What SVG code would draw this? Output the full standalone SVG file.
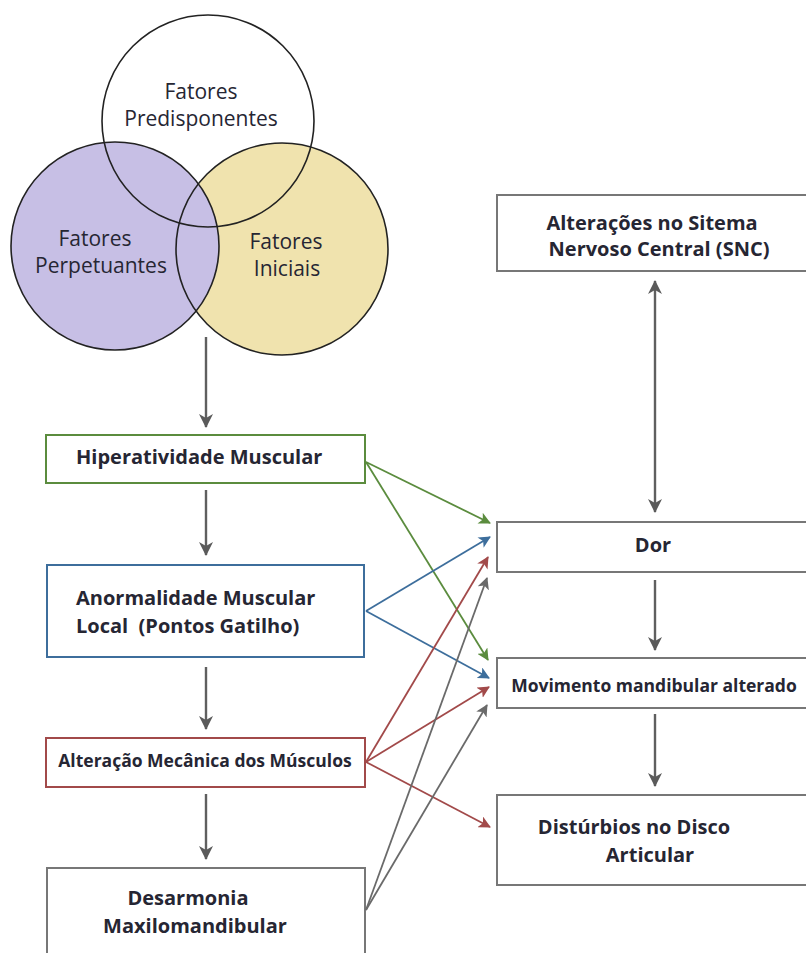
<svg xmlns="http://www.w3.org/2000/svg" width="806" height="953" viewBox="0 0 806 953">
<defs>
<style>
.c{stroke:#222;stroke-width:1.6;fill:none}
.t{font-family:"Open Sans","Liberation Sans",sans-serif;fill:#262633}
.ct{font-size:21px;text-anchor:middle}
.b{font-weight:bold;font-size:20px}
.s{font-size:17.5px}
.m{text-anchor:middle}
.bx{fill:#fff;stroke-width:2}
.g{stroke:#5b8c3e}
.bl{stroke:#3d6e9c}
.r{stroke:#a24a4a}
.k{stroke:#777}
.ln{fill:none;stroke-width:1.8}
</style>
<marker id="ak" markerWidth="14" markerHeight="14" refX="13" refY="7" orient="auto" markerUnits="userSpaceOnUse"><path d="M0,0 L14,7 L0,14 L4,7 z" fill="#5a5a5a"/></marker>
<marker id="akr" markerWidth="14" markerHeight="14" refX="1" refY="7" orient="auto" markerUnits="userSpaceOnUse"><path d="M14,0 L0,7 L14,14 L10,7 z" fill="#5a5a5a"/></marker>
<marker id="ag" markerWidth="12" markerHeight="12" refX="11" refY="6" orient="auto" markerUnits="userSpaceOnUse"><path d="M0,0 L12,6 L0,12 L3,6 z" fill="#5b8c3e"/></marker>
<marker id="ab" markerWidth="12" markerHeight="12" refX="11" refY="6" orient="auto" markerUnits="userSpaceOnUse"><path d="M0,0 L12,6 L0,12 L3,6 z" fill="#3d6e9c"/></marker>
<marker id="ar" markerWidth="12" markerHeight="12" refX="11" refY="6" orient="auto" markerUnits="userSpaceOnUse"><path d="M0,0 L12,6 L0,12 L3,6 z" fill="#a24a4a"/></marker>
<marker id="agr" markerWidth="12" markerHeight="12" refX="11" refY="6" orient="auto" markerUnits="userSpaceOnUse"><path d="M0,0 L12,6 L0,12 L3,6 z" fill="#6a6a6a"/></marker>
</defs>
<rect width="806" height="953" fill="#fff"/>

<g id="venn">
<circle cx="208" cy="121" r="106" fill="#fff"/>
<circle cx="282" cy="249" r="106" fill="#f0e3ae"/>
<circle cx="115" cy="246" r="104" fill="#c7bfe5"/>
<circle class="c" cx="208" cy="121" r="106"/>
<circle class="c" cx="282" cy="249" r="106"/>
<circle class="c" cx="115" cy="246" r="104"/>
<text class="t ct" x="201" y="99">Fatores</text>
<text class="t ct" x="201" y="126">Predisponentes</text>
<text class="t ct" x="95" y="246">Fatores</text>
<text class="t ct" x="101" y="273">Perpetuantes</text>
<text class="t ct" x="286" y="249">Fatores</text>
<text class="t ct" x="287" y="276">Iniciais</text>
</g>

<g id="hiperatividade">
<rect class="bx g" x="46" y="435" width="319" height="48"/>
<text class="t b" x="76" y="464">Hiperatividade Muscular</text>
</g>
<g id="anormalidade">
<rect class="bx bl" x="47" y="565" width="317" height="92"/>
<text class="t b" x="76" y="605">Anormalidade Muscular</text>
<text class="t b" x="76" y="633">Local &#160;(Pontos Gatilho)</text>
</g>
<g id="alteracao">
<rect class="bx r" x="46" y="738" width="319" height="49"/>
<text class="t b s m" x="205" y="767">Alteração Mecânica dos Músculos</text>
</g>
<g id="desarmonia">
<rect class="bx k" x="47" y="868" width="318" height="100"/>
<text class="t b m" x="188" y="905">Desarmonia</text>
<text class="t b m" x="195" y="933">Maxilomandibular</text>
</g>

<g id="snc">
<rect class="bx k" x="497" y="195" width="320" height="76"/>
<text class="t b m" x="652" y="230">Alterações no Sitema</text>
<text class="t b m" x="659" y="256">Nervoso Central (SNC)</text>
</g>
<g id="dor">
<rect class="bx k" x="497" y="522" width="320" height="50"/>
<text class="t b m" x="653" y="552">Dor</text>
</g>
<g id="movimento">
<rect class="bx k" x="497" y="658" width="320" height="50"/>
<text class="t b s m" x="654" y="692">Movimento mandibular alterado</text>
</g>
<g id="disturbios">
<rect class="bx k" x="497" y="795" width="320" height="90"/>
<text class="t b m" x="634" y="834">Distúrbios no Disco</text>
<text class="t b m" x="650" y="862">Articular</text>
</g>

<g id="connectors">
<g stroke="#5f5f5f" stroke-width="2.4" fill="none">
<line x1="206" y1="337" x2="206" y2="427" marker-end="url(#ak)"/>
<line x1="206" y1="490" x2="206" y2="555" marker-end="url(#ak)"/>
<line x1="206" y1="667" x2="206" y2="729" marker-end="url(#ak)"/>
<line x1="206" y1="794" x2="206" y2="859" marker-end="url(#ak)"/>
<line x1="655" y1="281" x2="655" y2="512" marker-start="url(#akr)" marker-end="url(#ak)"/>
<line x1="655" y1="580" x2="655" y2="650" marker-end="url(#ak)"/>
<line x1="655" y1="714" x2="655" y2="786" marker-end="url(#ak)"/>
</g>
<line class="ln g" x1="366" y1="462" x2="490" y2="523" marker-end="url(#ag)"/>
<line class="ln g" x1="366" y1="462" x2="488" y2="660" marker-end="url(#ag)"/>
<line class="ln bl" x1="366" y1="611" x2="490" y2="537" marker-end="url(#ab)"/>
<line class="ln bl" x1="366" y1="611" x2="489" y2="678" marker-end="url(#ab)"/>
<line class="ln r" x1="366" y1="762" x2="488" y2="557" marker-end="url(#ar)"/>
<line class="ln r" x1="366" y1="762" x2="489" y2="687" marker-end="url(#ar)"/>
<line class="ln r" x1="366" y1="762" x2="490" y2="827" marker-end="url(#ar)"/>
<line class="ln" stroke="#6a6a6a" stroke-width="1.6" x1="366" y1="910" x2="487" y2="578" marker-end="url(#agr)"/>
<line class="ln" stroke="#6a6a6a" stroke-width="1.6" x1="366" y1="910" x2="487" y2="705" marker-end="url(#agr)"/>
</g>
</svg>
